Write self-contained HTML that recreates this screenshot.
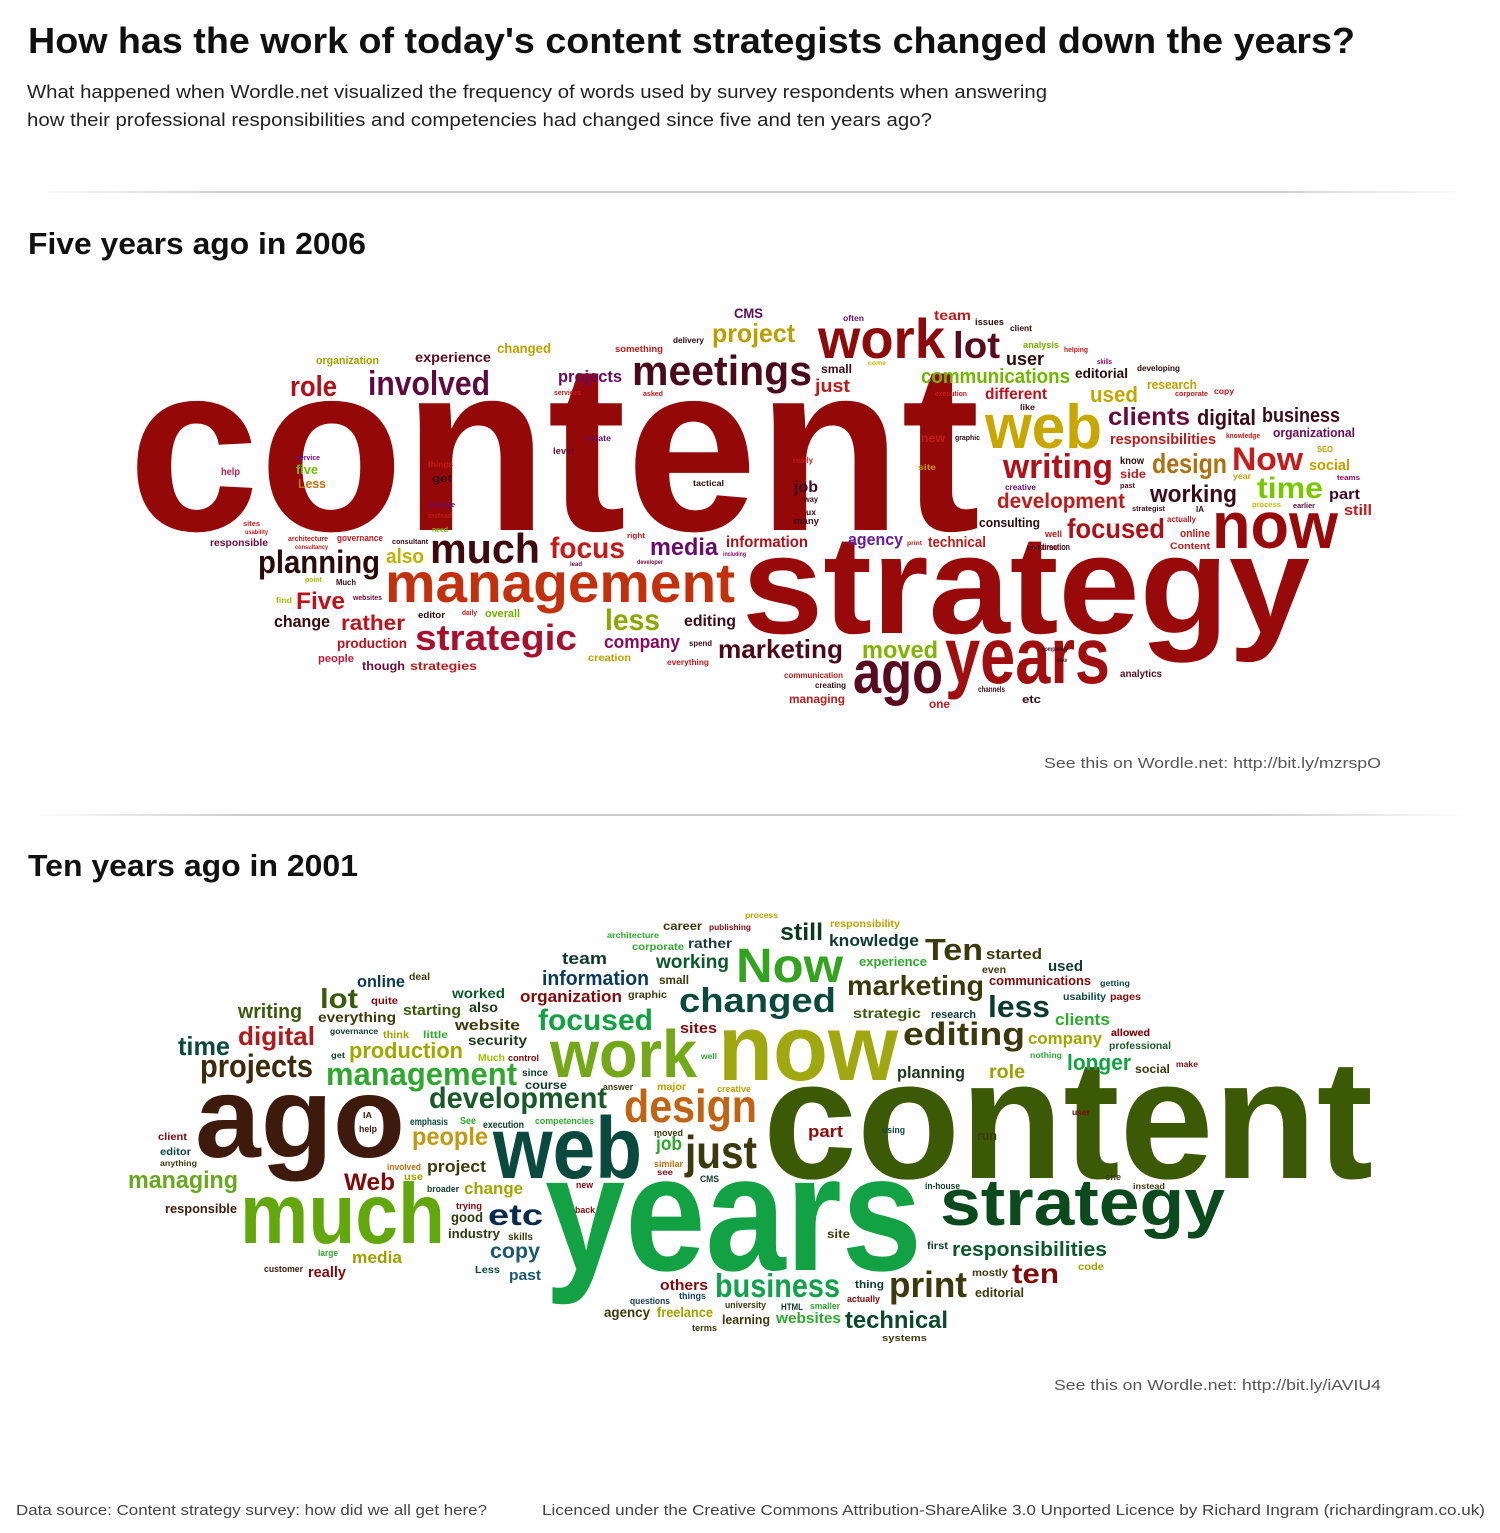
<!DOCTYPE html>
<html><head><meta charset="utf-8"><title>Content strategists word clouds</title>
<style>
html,body{margin:0;padding:0;background:#fff;}
svg{display:block;}
.w{font-family:"Liberation Sans",Arial,sans-serif;font-weight:bold;}
.h{font-family:"Liberation Sans",Arial,sans-serif;}
</style></head>
<body>
<svg id="page" width="1500" height="1533" viewBox="0 0 1500 1533" xmlns="http://www.w3.org/2000/svg">
<defs>
<linearGradient id="hr" x1="0" x2="1" y1="0" y2="0">
<stop offset="0" stop-color="#fff"/><stop offset="0.15" stop-color="#ccc"/><stop offset="0.85" stop-color="#ccc"/><stop offset="1" stop-color="#fff"/>
</linearGradient>
</defs>
<rect width="1500" height="1533" fill="#fff"/>
<text class="h" x="28" y="53" font-size="36" font-weight="bold" fill="#111" textLength="1327" lengthAdjust="spacingAndGlyphs">How has the work of today's content strategists changed down the years?</text>
<text class="h" x="27" y="98" font-size="18" fill="#222" textLength="1020" lengthAdjust="spacingAndGlyphs">What happened when Wordle.net visualized the frequency of words used by survey respondents when answering</text>
<text class="h" x="27" y="126" font-size="18" fill="#222" textLength="905" lengthAdjust="spacingAndGlyphs">how their professional responsibilities and competencies had changed since five and ten years ago?</text>
<rect x="30" y="191" width="1440" height="2" fill="url(#hr)"/>
<text class="h" x="28" y="254" font-size="31" font-weight="bold" fill="#111" textLength="338" lengthAdjust="spacingAndGlyphs">Five years ago in 2006</text>
<g id="cloud1"></g>
<text class="h" x="1044" y="768" font-size="15" fill="#555" textLength="337" lengthAdjust="spacingAndGlyphs">See this on Wordle.net: http://bit.ly/mzrspO</text>
<rect x="30" y="814" width="1440" height="2" fill="url(#hr)"/>
<text class="h" x="28" y="876" font-size="31" font-weight="bold" fill="#111" textLength="330" lengthAdjust="spacingAndGlyphs">Ten years ago in 2001</text>
<g id="cloud2"></g>
<text class="h" x="1054" y="1390" font-size="15" fill="#555" textLength="327" lengthAdjust="spacingAndGlyphs">See this on Wordle.net: http://bit.ly/iAVIU4</text>
<text class="h" x="16" y="1515" font-size="15" fill="#444" textLength="471" lengthAdjust="spacingAndGlyphs">Data source: Content strategy survey: how did we all get here?</text>
<text class="h" x="542" y="1515" font-size="15" fill="#444" textLength="943" lengthAdjust="spacingAndGlyphs">Licenced under the Creative Commons Attribution-ShareAlike 3.0 Unported Licence by Richard Ingram (richardingram.co.uk)</text>
</svg>
<script>
// word | left | right | baseline | font-size | colour
const words2006 = [
"content|128|980|530|240|#950808","strategy|742|1310|633|140|#980a0a","management|385|735|602|56|#c2300c",
"work|818|945|358|56|#8e0a0a","now|1212|1338|548|66|#980a0a","years|945|1110|683|80|#a00e10",
"ago|853|943|693|60|#5a0a1e","web|985|1102|448|62|#c8a800","meetings|632|812|385|42|#4a0a1e",
"much|430|540|563|42|#3e0a0e","strategic|415|577|650|36|#a81030","planning|258|380|573|32|#2a0a0a",
"involved|368|490|395|34|#5c0a40","lot|953|1000|358|37|#5a0a1a","writing|1003|1113|478|34|#b0101a",
"focus|550|625|558|30|#c81a1a","less|605|660|630|30|#8aa800","project|712|795|342|26|#b8a000",
"communications|921|1070|383|20|#70b800","Now|1232|1303|470|32|#c81a1a","time|1257|1323|498|30|#78c800",
"design|1152|1227|473|28|#b07010","development|997|1125|508|21|#c01a1a","working|1150|1237|502|24|#3a0a1a",
"focused|1067|1165|538|28|#b0101a","clients|1108|1190|425|25|#6a0a3a","digital|1197|1256|425|22|#3a0a1a",
"business|1262|1340|422|20|#3a0a1a","marketing|718|843|658|26|#4a0a1a","moved|862|938|658|24|#80b400",
"company|604|680|648|18|#8a0a5a","media|650|718|555|24|#6a0a6a","information|726|808|547|16|#b0101a",
"agency|848|903|545|17|#6a1a9a","technical|928|986|547|15|#c01a1a","Five|296|345|609|24|#c0101a",
"rather|341|405|630|21|#c0101a","production|337|407|648|14|#c0101a","change|274|330|627|17|#3a0a0a",
"also|386|424|563|20|#c0b000","editing|684|736|626|16|#3a0a1a","role|290|337|396|29|#b0101a",
"experience|415|491|362|14|#5a0a1a","changed|497|551|353|14|#c0a000","organization|316|379|364|11|#a0a000",
"projects|558|622|382|17|#6a0a5a","just|815|850|392|18|#c01a1a","CMS|734|763|318|14|#5a0a5a",
"team|934|971|320|14|#c01a1a","user|1006|1044|365|18|#2a0a0a","used|1090|1138|402|22|#c0a800",
"editorial|1075|1128|378|14|#2a0a0a","research|1147|1197|389|13|#c0a000","different|985|1047|399|16|#c0101a",
"responsibilities|1110|1216|444|15|#c01a1a","organizational|1273|1355|437|13|#6a0a5a","social|1309|1350|470|15|#c0a000",
"part|1329|1360|499|15|#3a0a2a","still|1344|1372|515|15|#c01a1a","consulting|979|1040|527|13|#2a0a0a",
"job|794|818|492|16|#3a0a1a","strategies|410|477|670|12|#c01a1a","though|362|405|670|12|#6a0a3a",
"people|318|354|662|11|#c01a3a","managing|789|845|703|12|#c01a1a","analytics|1120|1162|677|10|#5a0a1a",
"one|929|950|708|12|#c01a1a","new|921|945|442|12|#c01a1a","five|296|318|474|13|#70c000",
"Less|298|326|488|13|#c07010","responsible|210|268|546|10|#6a0a3a","creation|588|631|661|10|#c0a000",
"get|432|452|482|11|#3a0a1a","level|553|574|454|9|#6a0a2a","online|1180|1210|537|11|#c01a1a",
"Content|1170|1210|549|9|#c01a1a","small|821|852|373|12|#3a0a1a","overall|485|520|617|11|#70b000",
"know|1120|1144|464|10|#2a0a0a","side|1120|1146|478|12|#c01a1a","well|1045|1062|537|9|#c01a1a",
"become|1028|1058|550|8|#c01a1a","direction|1040|1070|550|9|#3a0a1a","actually|1167|1196|522|8|#c01a1a",
"creative|1005|1036|490|8|#6a0a6a","past|1120|1135|488|7|#5a0a1a","strategist|1132|1165|511|7|#3a0a1a",
"IA|1196|1204|512|8|#3a0a1a","year|1233|1251|479|8|#c0a000","process|1252|1281|507|7|#c0c000",
"earlier|1293|1315|508|7|#5a0a3a","teams|1337|1360|480|7|#8a0a5a","SEO|1317|1333|452|8|#c0a000",
"knowledge|1226|1260|438|7|#c01a1a","copy|1214|1234|394|8|#c01a1a","corporate|1175|1208|396|7|#c01a1a",
"developing|1137|1180|371|8|#2a0a0a","skills|1097|1112|364|7|#8a0a5a","helping|1064|1088|352|7|#c01a1a",
"analysis|1023|1059|348|9|#70b000","client|1010|1032|331|8|#2a0a0a","issues|975|1004|325|9|#2a0a0a",
"often|843|864|321|8|#6a0a6a","come|868|886|365|6|#c0c000","execution|935|967|396|7|#c01a1a",
"like|1020|1035|410|8|#3a0a1a","graphic|955|980|440|7|#2a0a0a","really|793|813|463|8|#c01a1a",
"site|918|936|470|8|#c0a000","way|804|818|502|8|#3a0a1a","ux|806|816|515|8|#3a0a1a",
"many|794|819|524|9|#3a0a1a","print|907|922|545|6|#c01a1a","something|615|663|352|9|#c01a1a",
"delivery|673|704|343|8|#2a0a0a","services|554|581|395|7|#c01a1a","asked|643|663|396|7|#c01a1a",
"create|585|611|441|8|#6a0a6a","things|428|453|467|8|#c01a1a","manage|428|455|507|7|#6a0a6a",
"instead|428|452|518|7|#c01a1a","need|432|448|532|7|#80b000","tactical|693|724|486|8|#2a0a0a",
"right|627|645|538|7|#c01a1a","lead|570|582|566|6|#6a0a3a","developer|637|663|564|6|#6a0a3a",
"including|723|746|556|6|#8a0a6a","service|296|320|460|7|#6a0a8a","help|221|240|475|10|#c01a4a",
"sites|243|260|526|7|#c01a1a","usability|245|268|534|6|#c01a1a","architecture|288|328|541|7|#c01a1a",
"consultancy|295|328|549|6|#c01a1a","governance|337|383|541|9|#c01a1a","consultant|392|428|544|7|#3a0a1a",
"point|305|322|582|7|#a0c000","Much|336|356|585|8|#3a0a1a","find|276|292|603|8|#a0c000",
"websites|353|382|600|7|#6a0a3a","editor|418|445|618|9|#2a0a0a","daily|462|477|615|7|#c01a1a",
"spend|689|712|646|8|#3a0a1a","everything|667|709|665|8|#c01a1a","communication|784|843|678|8|#c01a1a",
"creating|815|846|688|8|#3a0a1a","channels|978|1005|692|8|#3a0a1a","etc|1022|1041|703|11|#3a0a1a",
"completely|1042|1068|651|6|#3a0a1a","make|1057|1067|662|6|#3a0a1a","text|1027|1040|550|7|#3a0a1a"
];
const words2001 = [
"content|763|1373|1178|170|#3c5a06","years|545|922|1270|165|#12a244","now|718|898|1080|94|#a0a810",
"ago|195|405|1157|115|#3e1a0c","much|240|445|1243|85|#62a80c","web|493|642|1178|87|#0a4a3e",
"work|550|697|1077|67|#74a818","strategy|940|1225|1225|66|#0a4a1c","Now|736|843|982|48|#34a420",
"changed|679|836|1012|34|#0c4a3c","design|624|757|1122|46|#c06414","editing|903|1025|1045|32|#3a3a0c",
"just|685|757|1168|46|#3a3a0c","projects|200|313|1077|32|#3e2a0c","management|326|517|1085|32|#30a830",
"development|429|607|1108|30|#1a5a2a","focused|538|653|1030|30|#12a244","marketing|847|984|995|28|#3a3a0c",
"less|988|1050|1017|31|#0c3a2c","Ten|925|983|960|31|#3a3a0c","etc|488|543|1225|30|#0a2a4c",
"print|889|967|1297|36|#3a3a0c","business|715|840|1297|33|#12a24c","technical|845|948|1328|24|#0a4a2a",
"ten|1012|1059|1283|28|#800a0a","responsibilities|952|1107|1256|20|#0a5a2a","people|412|488|1145|25|#c09a10",
"Web|344|395|1190|24|#800a0a","managing|128|238|1188|24|#68a820","digital|238|315|1045|26|#b01a1a",
"time|178|230|1055|26|#0a4a3c","writing|238|302|1018|20|#3a5a0c","lot|320|358|1008|28|#3a5a0c",
"production|349|463|1058|22|#a0a800","information|542|649|985|20|#0a3a5a","organization|520|622|1002|17|#800a0a",
"working|656|729|968|19|#0a5a2a","team|562|607|964|17|#0c3a2c","still|780|823|940|24|#0a3a1a",
"knowledge|829|919|946|17|#0c3a2c","longer|1067|1131|1070|22|#12a244","clients|1055|1110|1025|17|#30a830",
"company|1028|1102|1044|17|#a0a800","role|989|1025|1078|19|#a0a000","planning|897|965|1078|17|#1a3a1a",
"copy|490|540|1258|21|#1a5a6a","media|352|402|1263|17|#a0a000","really|308|346|1277|15|#800a0a",
"industry|448|500|1238|13|#2a3a0a","good|451|483|1222|14|#2a3a0a","change|464|523|1194|17|#a0a800",
"project|427|486|1172|17|#3a3a0c","past|509|541|1280|15|#1a5a6a","websites|776|841|1323|15|#30a830",
"learning|722|770|1324|13|#3a3a0c","freelance|657|713|1317|14|#a0a000","agency|604|650|1317|14|#3a3a0c",
"others|660|708|1290|15|#800a0a","editorial|975|1024|1297|13|#3a3a0c","part|808|843|1137|17|#900a0a",
"job|656|682|1150|19|#30a830","website|455|520|1030|15|#3a3a0c","security|468|527|1045|14|#1a3a1a",
"worked|452|505|998|14|#0a5a2a","also|469|498|1012|14|#1a3a1a","starting|403|461|1015|15|#3a5a0c",
"everything|318|396|1022|14|#3a3a0c","online|357|405|987|17|#0a3a5a","rather|688|732|948|14|#1a3a3a",
"career|663|702|930|12|#3a3a0c","experience|859|927|966|13|#30a830","started|986|1042|959|15|#3a3a0c",
"used|1048|1083|971|15|#0c3a2c","communications|989|1091|985|13|#800a0a","strategic|853|921|1018|14|#3a5a0c",
"sites|680|717|1033|15|#800a0a","run|977|997|1140|13|#3a3a0c","site|827|850|1238|12|#3a3a0c",
"first|927|948|1249|10|#0c3a2c","mostly|972|1008|1276|10|#3a3a0c","responsible|165|237|1213|13|#3e1a0c",
"small|659|689|984|12|#3a3a0c","usability|1063|1106|1000|10|#0a4a3a","pages|1110|1141|1000|10|#800a0a",
"social|1135|1170|1073|12|#3a3a0c","professional|1109|1171|1049|10|#1a5a2a","allowed|1111|1150|1036|10|#800a0a",
"code|1078|1104|1270|10|#a0a000","make|1176|1198|1067|8|#800a0a","getting|1100|1130|986|8|#0a4a3a",
"even|982|1006|973|10|#3a3a0c","research|931|976|1018|11|#0a3a3a","nothing|1030|1062|1058|8|#30a830",
"allowed|1111|1150|1036|10|#800a0a","responsibility|830|900|927|10|#c0a000","process|745|778|918|8|#c0a000",
"publishing|709|751|930|8|#800a0a","architecture|607|659|938|8|#30a830","corporate|632|684|950|10|#30a830",
"graphic|628|667|998|10|#3a3a0c","deal|409|430|980|10|#3a3a0c","quite|371|398|1004|10|#800a0a",
"governance|330|378|1034|8|#0c3a2c","think|383|409|1038|10|#a0a000","little|423|448|1038|10|#30a830",
"get|331|345|1058|8|#0c3a2c","Much|478|505|1061|10|#a0c000","control|508|539|1061|9|#800a0a",
"since|522|548|1076|10|#0c3a2c","course|525|567|1089|12|#0c3a2c","answer|603|633|1090|9|#3a3a0c",
"major|657|686|1090|10|#c0a000","creative|717|751|1092|9|#c0a000","well|701|717|1059|8|#30a830",
"competencies|535|594|1124|9|#30a830","execution|483|524|1128|10|#0c3a2c","emphasis|410|448|1125|10|#0a4a3a",
"See|460|476|1124|10|#30a830","IA|363|372|1118|8|#3a1a0c","help|359|377|1132|9|#3a1a0c",
"moved|654|683|1136|9|#3a3a0c","similar|654|683|1167|9|#c07010","see|657|673|1175|8|#800a0a",
"CMS|700|719|1182|9|#0c3a2c","new|576|593|1188|9|#800a0a","back|575|595|1213|9|#800a0a",
"client|158|187|1140|10|#800a0a","editor|160|191|1155|10|#0a4a3a","anything|160|197|1166|8|#3a3a0c",
"involved|387|421|1170|9|#c07010","use|404|423|1180|10|#a0a000","broader|427|459|1192|9|#0c3a2c",
"trying|456|482|1209|9|#800a0a","skills|508|533|1240|10|#3a3a0c","large|318|338|1256|9|#30a830",
"customer|264|303|1272|9|#3e1a0c","Less|475|500|1273|10|#0a4a3a","questions|630|670|1304|9|#1a3a5a",
"things|679|706|1299|9|#1a3a5a","university|725|766|1308|9|#3a3a0c","HTML|781|803|1310|9|#0c3a2c",
"smaller|810|840|1309|9|#30a830","terms|692|717|1331|9|#3a3a0c","systems|882|927|1341|9|#3a3a0c",
"thing|855|884|1288|11|#0c3a2c","actually|847|880|1302|9|#800a0a","using|882|905|1133|9|#0a4a3a",
"in-house|925|960|1189|9|#0c3a2c","user|1072|1090|1115|8|#800a0a","one|1105|1121|1180|9|#3a3a0c",
"instead|1133|1165|1189|8|#3a3a0c"
];

function drawCloud(groupId, list, prefix) {
  const g = document.getElementById(groupId);
  const NS = 'http://www.w3.org/2000/svg';
  list.forEach(function (row) {
    const p = row.split('|');
    const t = document.createElementNS(NS, 'text');
    t.setAttribute('class', 'w');
    t.setAttribute('x', p[1]);
    t.setAttribute('y', p[3]);
    t.setAttribute('font-size', p[4]);
    t.setAttribute('fill', p[5]);
    t.setAttribute('textLength', (+p[2] - +p[1]));
    t.setAttribute('lengthAdjust', 'spacingAndGlyphs');
    
    
    t.textContent = p[0];
    g.appendChild(t);
  });
}
drawCloud('cloud1', words2006, 'cloud-2006');
drawCloud('cloud2', words2001, 'cloud-2001');
</script>
</body></html>
